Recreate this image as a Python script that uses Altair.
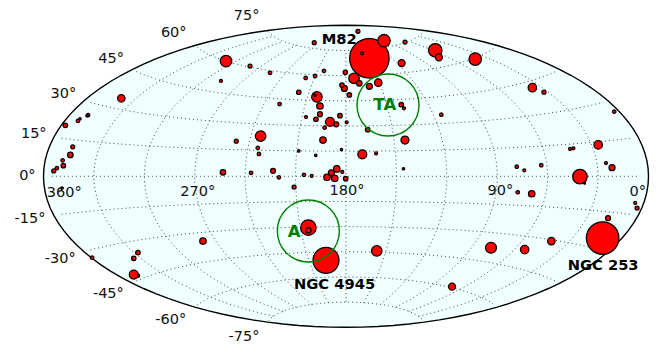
import math
import altair as alt
import pandas as pd

# Sky-map plane coordinates in degrees (Aitoff plane), painting order back to front
sky_x = [-123.8, 142.0, -126.3, 13.9, 152.7, -11.9, -22.4, 139.2, 53.1, 22.6, 76.9, -71.4, 86.3,
         -17.3, 4.8, -50.8, 18.3, -9.5, 9.7, 110.9, 150.1, 106.3, 35.1, -133.7, 19.2, 122.2,
         33.1, 55.3, 63.1, -15.5, -13.7, -85.1, 110.5, -5.5, -11.3, -6.7, -8.7, 13.9, -1.0,
         158.3, -164.0, -73.2, 7.9, -5.8, -15.5, -43.4, 155.9,
         -123.8, -126.3, -28.1, -17.9, -3.6, -0.4, -2.4, 2.0, 32.9, 12.9, -0.2, -167.0, -168.2,
         -18.9, 7.1, 35.1, -57.1, 117.8, -65.3, -162.6, -30.9, 173.2, -173.9,
         -45.2, -24.0, -18.4, -13.1, -39.5, -12.7, -153.5, -159.5, -168.6, -172.0, -52.5, -51.8,
         -56.5, -25.0, -39.9, 101.6, 116.2, 102.2, 159.6, 56.7, -151.1,
         -74.4, -23.8, 0.4, 17.9, 34.5, -2.2, -20.4, 133.3, 135.3, 106.1, 154.7, 172.1,
         -154.1, -158.3, -28.1, -18.0, -2.7, 34.2, -169.0, -18.4, 9.5, -22.4]
sky_y = [-59.2, -4.2, -58.6, 70.3, -36.8, -50.1, -30.6, -0.2, 75.1, 80.8, 69.9, 68.7, -42.6,
         47.3, 58.4, 24.0, -44.5, 32.4, 13.1, 52.8, 18.7, -43.7, 21.6, 46.5, 55.8, -38.6,
         67.5, 70.9, -65.8, 41.9, 21.6, -38.6, -10.4, 4.4, -0.6, -1.2, 2.1, 53.6, 52.4,
         5.1, 12.7, 2.4, 55.4, 31.0, 37.0, 3.3, -25.0,
         -45.5, -48.9, 50.1, 34.0, 36.1, 62.0, 54.4, 48.5, 42.7, 27.8, -1.4, 30.4, 6.3,
         79.6, 86.4, 80.0, 65.7, 50.1, 20.9, 17.6, -6.4, -18.9, 3.2,
         61.7, 58.6, 59.8, 62.8, 43.1, 29.0, 36.5, 33.0, 9.5, 4.9, 16.9, 13.3,
         2.1, 0.8, -0.6, 5.7, 6.6, -9.5, 38.5, 36.7, -48.5,
         56.8, 35.3, 32.2, 13.6, 40.5, 2.6, 0.2, 16.3, 16.7, 3.6, 7.9, -15.9,
         36.1, 34.3, 15.1, 12.5, 15.9, 4.5, -7.0, 48.3, 73.3, -32.2]
flux = [12, 3, 80, 1560, 1056, 676, 240, 210, 182, 156, 156, 132, 120,
        110, 110, 110, 110, 80, 80, 72, 72, 72, 64, 56, 56, 56,
        49, 49, 49, 42, 42, 42, 42, 42, 42, 42, 36, 36, 36,
        36, 30, 30, 30, 25, 25, 25, 25,
        20, 20, 20, 20, 20, 20, 20, 20, 20, 20, 20, 20, 20,
        16, 16, 16, 16, 16, 16, 16, 16, 16, 16,
        12, 12, 12, 12, 12, 12, 12, 12, 12, 12, 12, 12,
        12, 12, 12, 12, 12, 12, 12, 12, 12,
        9, 9, 9, 9, 9, 9, 9, 9, 9, 9, 9, 9,
        6, 6, 6, 6, 6, 6, 6, 6, 9, 30]

tick_text = ["75°", "60°", "45°", "30°", "15°", "0°", "-15°", "-30°", "-45°", "-60°", "-75°",
             "360°", "270°", "180°", "90°", "0°"]
tick_x = [-59.1, -102.5, -139.8, -168.2, -185.8, -189.6, -188.0, -170.0, -141.4, -104.3, -60.7,
          -167.6, -88.2, 0.6, 91.8, 173.6]
tick_y = [96.1, 86.2, 70.3, 49.6, 25.8, 0.8, -25.0, -48.9, -69.6, -85.2, -95.0,
          -9.4, -8.8, -8.2, -8.0, -8.9]

name_text = ["M82", "NGC 4945", "NGC 253"]
name_x = [-4.0, -6.8, 153.0]
name_y = [81.6, -64.2, -52.9]

site_text = ["TA", "A"]
site_x = [23.2, -30.9]
site_y = [43.0, -32.6]
ring_x = [25.0, -22.4]
ring_y = [42.5, -32.6]

lat_lines = [-75, -60, -45, -30, -15, 0, 15, 30, 45, 60, 75]
lon_lines = [-150, -120, -90, -60, -30, 0, 30, 60, 90, 120, 150]


def aitoff(lon, lat):
    lam, phi = math.radians(lon), math.radians(lat)
    alpha = math.acos(math.cos(phi) * math.cos(lam / 2))
    sinc = math.sin(alpha) / alpha if alpha > 1e-9 else 1.0
    return (math.degrees(2 * math.cos(phi) * math.sin(lam / 2) / sinc),
            math.degrees(math.sin(phi) / sinc))


rows = []
for lat in lat_lines:
    for k in range(0, 351, 5):
        px, py = aitoff(-175 + k, lat)
        rows.append({"line": f"lat{lat}", "i": k, "x": px, "y": py})
for lon in lon_lines:
    for k in range(0, 151, 3):
        px, py = aitoff(lon, -75 + k)
        rows.append({"line": f"lon{lon}", "i": k, "x": px, "y": py})
grid = pd.DataFrame(rows)

edge = []
for k in range(0, 361, 3):
    t = math.radians(k)
    edge.append({"i": k, "x": 180 * math.cos(t), "y": 90 * math.sin(t)})
edge = pd.DataFrame(edge)

fill = pd.DataFrame([{"x": 180 * math.cos(math.radians(k)),
                      "y": 90 * math.sin(math.radians(k)),
                      "y2": -90 * math.sin(math.radians(k))} for k in range(0, 181, 2)])

sources = pd.DataFrame({"x": sky_x, "y": sky_y, "flux": flux, "i": range(len(flux))})
ticks = pd.DataFrame({"x": tick_x, "y": tick_y, "t": tick_text})
names = pd.DataFrame({"x": name_x, "y": name_y, "t": name_text})
sites = pd.DataFrame({"x": site_x, "y": site_y, "t": site_text})
rings = pd.DataFrame({"x": ring_x, "y": ring_y})

X = alt.X("x:Q", scale=alt.Scale(domain=[-201.12, 184.46], nice=False, zero=False), axis=None)
Y = alt.Y("y:Q", scale=alt.Scale(domain=[-101.15, 100.31], nice=False, zero=False), axis=None)

face = alt.Chart(fill).mark_area(color="#F0FFFF").encode(X, Y, y2="y2:Q")
lines = alt.Chart(grid).mark_line(color="#444444", strokeWidth=1, strokeDash=[1, 3]).encode(
    X, Y, detail="line:N", order="i:Q")
frame = alt.Chart(edge).mark_line(color="black", strokeWidth=1.4).encode(X, Y, order="i:Q")
points = alt.Chart(sources).mark_point(
    filled=True, fill="red", stroke="black", strokeWidth=1.25, opacity=1, shape="circle"
).encode(
    X, Y,
    size=alt.Size("flux:Q", legend=None,
                  scale=alt.Scale(type="linear", domain=[0, 1600], range=[0, 1600])),
    order="i:Q",
)
circles = alt.Chart(rings).mark_point(
    shape="circle", filled=False, stroke="green", strokeWidth=1.4, size=3844, opacity=1
).encode(X, Y)
tick_marks = alt.Chart(ticks).mark_text(
    font="DejaVu Sans", fontSize=14.5, color="#111111", align="center", baseline="middle", dy=1
).encode(X, Y, text="t:N")
name_marks = alt.Chart(names).mark_text(
    font="DejaVu Sans", fontSize=14.7, fontWeight="bold", color="black", align="center", baseline="middle", dy=1
).encode(X, Y, text="t:N")
site_marks = alt.Chart(sites).mark_text(
    font="DejaVu Sans", fontSize=16.5, fontWeight="bold", color="green", align="center", baseline="middle", dy=1
).encode(X, Y, text="t:N")

chart = (
    alt.layer(face, lines, frame, points, circles, tick_marks, name_marks, site_marks)
    .resolve_scale(size="independent")
    .properties(width=648, height=338, padding=0, background="white",
                autosize=alt.AutoSizeParams(type="none"))
    .configure_view(stroke=None)
)
chart.save("out.html", embed_options={"renderer": "svg", "actions": False})
